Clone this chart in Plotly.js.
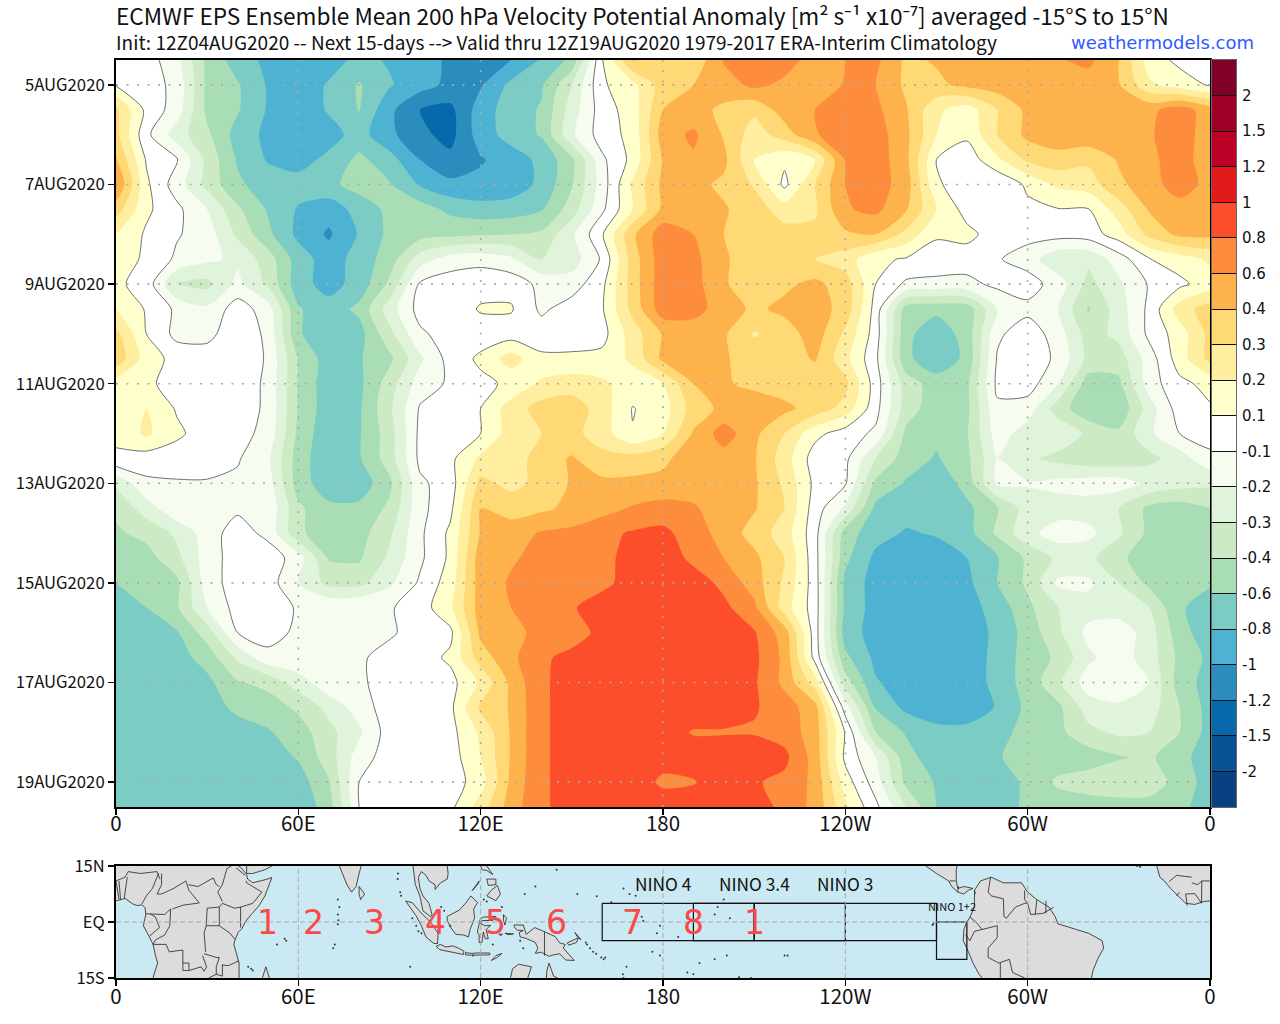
<!DOCTYPE html>
<html><head><meta charset="utf-8">
<script src="https://cdn.plot.ly/plotly-3.0.1.min.js"></script>
<style>html,body{margin:0;padding:0;background:#fff}#c{width:1280px;height:1024px}</style>
</head><body><div id="c"></div>
<script>
// ---------- anomaly readings: longitude every 10 deg (0..360), one row per 12 hours ----------
const lons=[0,10,20,30,40,50,60,70,80,90,100,110,120,130,140,150,160,170,180,190,200,210,220,230,240,250,260,270,280,290,300,310,320,330,340,350,360];
const days=[4.5,5,5.5,6,6.5,7,7.5,8,8.5,9,9.5,10,10.5,11,11.5,12,12.5,13,13.5,14,14.5,15,15.5,16,16.5,17,17.5,18,18.5,19,19.5];
const d04h12=[0,0,-.17,-.45,-.7,-.85,-.95,-.88,-.75,-.82,-.95,-1.02,-1.12,-1,-.78,-.55,.09,.42,.31,.32,.62,.75,.7,.5,.6,.65,.38,.42,.5,.55,.55,.58,.65,.4,.15,.05,.02];
const d05h00=[.08,0,-.13,-.45,-.58,-.82,-.92,-.78,-.58,-.78,-.92,-1.05,-1.02,-.75,-.63,-.3,.07,.17,.35,.4,.5,.65,.55,.45,.62,.6,.38,.38,.45,.5,.55,.5,.5,.42,.22,.15,.08];
const d05h12=[.32,.05,-.15,-.45,-.58,-.82,-.92,-.78,-.59,-.95,-1.2,-1.28,-.9,-.7,-.58,-.25,0,.15,.4,.47,.38,.32,.5,.6,.7,.65,.42,.22,.15,.3,.45,.5,.5,.5,.55,.7,.5];
const d06h00=[.33,-.05,-.25,-.38,-.68,-.85,-.93,-.88,-.72,-.95,-1.15,-1.3,-.9,-.72,-.58,-.22,0,.13,.5,.64,.39,.25,.35,.58,.72,.7,.45,.2,.12,.3,.45,.52,.55,.55,.58,.7,.5];
const d06h12=[.42,.08,-.08,-.33,-.62,-.82,-.88,-.75,-.55,-.72,-1,-1.15,-1.02,-.9,-.75,-.45,-.12,.13,.42,.57,.45,.2,.12,.2,.62,.72,.45,.1,-.02,.18,.32,.36,.32,.42,.55,.7,.48];
const d07h00=[.62,.12,-.15,-.33,-.57,-.68,-.72,-.65,-.52,-.58,-.82,-.95,-.95,-.92,-.75,-.42,-.15,.22,.45,.46,.38,.29,.05,.3,.6,.7,.5,.12,-.05,-.08,.12,.22,.25,.38,.5,.72,.52];
const d07h12=[.35,.12,-.05,-.2,-.38,-.62,-.82,-.92,-.72,-.55,-.5,-.65,-.72,-.7,-.62,-.35,-.12,.2,.45,.5,.42,.35,.25,.28,.58,.65,.42,.2,.02,-.05,.05,.09,.09,.25,.42,.5,.5];
const d08h00=[.2,.07,-.08,-.15,-.32,-.55,-.85,-1.03,-.78,-.55,-.48,-.45,-.42,-.4,-.38,-.22,.08,.38,.72,.6,.4,.35,.34,.33,.38,.4,.27,.11,.13,0,-.03,-.02,0,.15,.33,.45,.45];
const d08h12=[.13,.08,-.12,-.18,-.22,-.35,-.7,-.9,-.72,-.5,-.25,-.15,-.13,-.18,-.3,-.25,-.07,.35,.72,.66,.42,.36,.35,.3,.25,.12,.08,.03,0,-.08,-.15,-.28,-.28,-.15,.09,.15,.22];
const d09h00=[.12,.02,-.31,-.33,-.17,-.32,-.72,-.88,-.72,-.38,-.07,0,.02,.03,-.13,-.15,.05,.35,.72,.68,.42,.35,.38,.45,.35,.1,-.12,-.13,-.13,-.05,0,-.15,-.33,-.22,-.08,.05,.15];
const d09h12=[.2,.08,-.12,-.18,0,-.15,-.58,-.72,-.55,-.25,-.02,-.02,.11,.11,-.12,0,.08,.33,.72,.68,.5,.38,.45,.5,.36,.02,-.5,-.55,-.52,-.2,-.13,-.2,-.42,-.25,-.05,.25,.35];
const d10h00=[.33,.1,-.13,-.13,.03,-.12,-.58,-.72,-.68,-.33,-.12,0,0,0,0,0,.03,.25,.42,.48,.43,.29,.35,.5,.28,0,-.55,-.72,-.52,-.12,.02,-.15,-.35,-.27,-.05,.15,.33];
const d10h12=[.37,.15,.03,0,.02,-.11,-.42,-.7,-.62,-.45,-.22,-.02,.12,.25,.12,.12,.13,.22,.45,.5,.42,.36,.35,.42,.23,-.05,-.55,-.75,-.55,-.08,.02,-.12,-.33,-.35,-.15,.15,.33];
const d11h00=[.15,.12,.02,0,.02,-.12,-.42,-.72,-.65,-.35,-.15,-.07,.05,.12,.22,.25,.22,.15,.2,.4,.42,.38,.35,.33,.33,0,-.35,-.5,-.45,-.05,0,-.2,-.5,-.45,-.15,.05,.13];
const d11h12=[.13,.2,.08,0,.01,-.12,-.42,-.72,-.63,-.32,-.08,0,.1,.25,.34,.36,.25,.09,.15,.35,.45,.5,.45,.36,.26,-.03,-.35,-.52,-.45,-.12,-.15,-.35,-.55,-.55,-.25,0,.08];
const d12h00=[.12,.22,.12,0,-.03,-.13,-.45,-.75,-.62,-.35,-.05,0,.1,.25,.3,.33,.25,.105,.2,.42,.7,.45,.3,.13,0,-.12,-.45,-.55,-.42,-.15,-.25,-.22,-.32,-.38,-.22,-.1,-.03];
const d12h12=[.07,0,0,0,-.08,-.18,-.5,-.75,-.62,-.35,-.05,.05,.22,.24,.35,.42,.33,.34,.38,.5,.52,.42,.25,0,-.05,-.3,-.5,-.62,-.45,-.2,-.28,-.33,-.37,-.37,-.33,-.25,-.12];
const d13h00=[-.28,-.12,-.11,-.11,-.12,-.15,-.5,-.72,-.72,-.45,-.12,0,.33,.27,.33,.42,.45,.45,.45,.52,.52,.43,.28,.05,-.08,-.45,-.62,-.75,-.52,-.18,-.19,-.17,-.15,-.15,-.22,-.26,-.28];
const d13h12=[-.38,-.25,-.12,-.12,-.12,-.12,-.38,-.55,-.55,-.38,-.13,.05,.4,.36,.38,.45,.52,.62,.68,.62,.52,.42,.3,0,-.22,-.65,-.72,-.72,-.65,-.42,-.25,-.25,-.25,-.3,-.45,-.5,-.4];
const d14h00=[-.43,-.37,-.28,-.15,0,-.13,-.38,-.52,-.48,-.32,-.12,.12,.42,.5,.62,.65,.75,.82,.85,.7,.52,.36,.25,-.02,-.5,-.72,-.82,-.78,-.68,-.38,-.23,-.15,-.17,-.28,-.45,-.5,-.45];
const d14h12=[-.55,-.48,-.33,-.15,0,.02,-.15,-.42,-.43,-.28,-.12,.12,.52,.58,.65,.7,.72,.9,.92,.75,.6,.45,.3,-.02,-.55,-.85,-.92,-.9,-.8,-.62,-.38,-.28,-.27,-.38,-.5,-.55,-.52];
const d15h00=[-.6,-.52,-.45,-.15,0,0,-.2,-.33,-.33,-.22,-.07,.15,.5,.62,.72,.75,.75,.88,.98,.9,.75,.5,.28,0,-.66,-.88,-.95,-.92,-.85,-.6,-.38,-.18,-.18,-.3,-.45,-.55,-.58];
const d15h12=[-.65,-.6,-.43,-.2,-.02,0,-.11,-.11,-.1,-.11,0,.18,.5,.6,.72,.78,.9,.92,.95,.93,.85,.65,.25,0,-.65,-.88,-.95,-.95,-.88,-.72,-.45,-.3,-.24,-.25,-.3,-.58,-.68];
const d16h00=[-.72,-.7,-.62,-.35,-.1,-.02,-.12,-.13,-.12,-.12,.02,.05,.45,.52,.68,.72,.85,.92,.95,.95,.92,.82,.5,0,-.7,-.88,-.95,-.95,-.92,-.75,-.52,-.32,-.17,-.14,-.25,-.52,-.72];
const d16h12=[-.75,-.72,-.68,-.52,-.28,-.13,-.12,-.1,-.12,0,0,.12,.35,.55,.77,.85,.92,.96,.98,.98,.95,.85,.55,.03,-.55,-.85,-.92,-.95,-.95,-.72,-.52,-.38,-.22,-.15,-.25,-.45,-.65];
const d17h00=[-.72,-.72,-.72,-.65,-.42,-.37,-.25,-.13,-.12,0,0,.03,.22,.45,.78,.85,.95,.98,.97,.95,.92,.83,.55,.25,-.35,-.78,-.9,-.95,-.95,-.72,-.52,-.32,-.15,-.12,-.2,-.5,-.68];
const d17h12=[-.72,-.72,-.72,-.7,-.55,-.5,-.38,-.27,-.15,0,0,.05,.32,.42,.78,.85,.95,.98,.98,.95,.92,.82,.7,.48,-.15,-.62,-.85,-.95,-.95,-.78,-.55,-.45,-.25,-.22,-.25,-.4,-.68];
const d18h00=[-.75,-.75,-.74,-.72,-.7,-.62,-.5,-.33,-.22,0,0,.03,.22,.42,.78,.85,.95,.97,.92,.78,.78,.78,.72,.5,.08,-.4,-.62,-.72,-.72,-.65,-.55,-.45,-.33,-.28,-.3,-.4,-.68];
const d18h12=[-.75,-.75,-.75,-.75,-.75,-.7,-.58,-.35,-.15,0,0,0,.2,.42,.78,.85,.95,.95,.9,.93,.95,.95,.85,.52,.05,-.2,-.52,-.72,-.72,-.62,-.5,-.52,-.5,-.42,-.38,-.55,-.68];
const d19h00=[-.75,-.75,-.75,-.75,-.75,-.75,-.7,-.42,-.1,0,0,0,.15,.45,.78,.85,.95,.95,.75,.78,.95,.82,.75,.55,.15,-.15,-.45,-.62,-.72,-.72,-.55,-.38,-.35,-.32,-.33,-.5,-.68];
const d19h12=[-.75,-.75,-.75,-.75,-.75,-.75,-.75,-.5,-.1,0,0,.05,.25,.5,.78,.85,.95,.95,.95,.95,.95,.95,.72,.55,.22,-.05,-.3,-.6,-.72,-.72,-.55,-.52,-.5,-.5,-.5,-.55,-.7];
const anomalyRows=[d04h12,d05h00,d05h12,d06h00,d06h12,d07h00,d07h12,d08h00,d08h12,d09h00,d09h12,d10h00,d10h12,d11h00,d11h12,d12h00,d12h12,d13h00,d13h12,d14h00,d14h12,d15h00,d15h12,d16h00,d16h12,d17h00,d17h12,d18h00,d18h12,d19h00,d19h12];

// ---------- contour levels, colours, tick labels ----------
const levels=[-2,-1.5,-1.2,-1,-.8,-.6,-.4,-.3,-.2,-.1,.1,.2,.3,.4,.6,.8,1,1.2,1.5,2];
const levelLabels=['-2','-1.5','-1.2','-1','-0.8','-0.6','-0.4','-0.3','-0.2','-0.1','0.1','0.2','0.3','0.4','0.6','0.8','1','1.2','1.5','2'];
const bandColors=['#084081','#0a5296','#0868ac','#2b8cbe','#4eb3d3','#7bccc4','#a8ddb5','#ccebc5','#e0f3db','#f7fcf0','#ffffff','#ffffcc','#ffeda0','#fed976','#feb24c','#fd8d3c','#fc4e2a','#e31a1c','#bd0026','#a00026','#800026'];
const dayTicks=[5,7,9,11,13,15,17,19];
const dayLabels=['5AUG2020','7AUG2020','9AUG2020','11AUG2020','13AUG2020','15AUG2020','17AUG2020','19AUG2020'];
const lonTicks=[0,60,120,180,240,300,360];
const lonLabels=['0','60E','120E','180','120W','60W','0'];

// ---------- map: land outlines as [lon, lat] pairs ----------
const africaWest=[[-3,5],[0,5.6],[1.5,6],[3,6.3],[5.6,4.8],[7,4.4],[8.5,4.6],[9.6,3.8],[9.8,2],[9.3,0.5],[9,-1],[11,-4],[12.2,-6],[13,-9],[13.7,-11],[12.5,-14],[12,-16],[40.7,-16],[40.5,-15],[40.5,-11],[39.5,-8],[38.8,-6],[39.2,-4.7],[40.2,-2.8],[41.5,-1.7],[42.5,0],[44.5,2],[47,4.3],[49,7],[50.5,10],[51.3,11.9],[49,11.3],[45,10.5],[43.3,11.5],[43,12.7],[41,14.7],[39.5,15.5],[38,16],[-3,16]];
const yemen=[[43,13],[45,13],[49,14],[52,15.3],[52,16],[43,16]];
const india=[[73,16],[73.5,15],[74.5,13],[76,10],[77.5,8],[79,9.5],[80,13],[80.5,15],[81,16]];
const sriLanka=[[80,9.5],[81,8.5],[81.8,7.5],[80.5,6],[80,7.5]];
const indochina=[[97.6,16],[98,13],[98.5,10],[100,7],[101,3],[103.5,1.4],[104,2],[103,5],[101,7],[100,9],[99.5,12],[100.5,13.5],[102,12.5],[103,11],[105,10],[105,8.7],[106.8,10.5],[109,11.5],[109.3,13],[109,15],[108.5,16]];
const sumatra=[[95.3,5.6],[97.5,5.2],[100.3,2.5],[103.5,0],[106,-3],[105.8,-5.8],[104.5,-5.7],[102,-4],[100.5,-1],[98.7,1.7]];
const java=[[105.3,-6.5],[106.8,-6],[108.5,-6.7],[110.8,-6.4],[112.7,-7],[114.5,-7.8],[114.3,-8.7],[110,-8],[106.5,-7.4]];
const lesserSunda=[[115,-8.2],[117,-8.4],[119,-8.3],[123,-8.3],[123,-8.8],[119,-9],[117,-8.9],[115,-8.8]];
const timor=[[123.5,-10.3],[125,-9],[127,-8.4],[125.5,-9.5]];
const borneo=[[109,1.5],[111.3,2.4],[113,3.2],[115,5],[116.8,7],[119,5.2],[117.7,3.5],[118,1],[117.5,0],[116.5,-2],[116,-4],[114.5,-3.5],[111.8,-3.3],[110,-1.3],[109,.5]];
const sulawesi=[[119.8,.7],[120.8,1.3],[125,1.5],[124,.4],[120.5,.4],[120,-.5],[121.5,-1],[123.3,-.9],[121.8,-2],[122.5,-4.5],[121.5,-4.5],[120.9,-2.7],[120.4,-5.5],[119.5,-5.5],[119.5,-3.5],[118.9,-2.7]];
const luzon=[[120,16],[120,15],[120.5,14],[122,13.8],[124,12.7],[122,15],[122,16]];
const mindanao=[[122,7],[125,5.7],[126.5,7.5],[125.5,9.8],[123.5,8.5]];
const palawan=[[117.2,8.4],[119.5,11],[119.3,10.3]];
const visayas=[[122,11.5],[125,11.5],[125,10],[122.5,9.8]];
const halmahera=[[127.5,2],[128.5,1],[128,-.8],[127.5,.5]];
const seram=[[128,-3],[130.8,-3.2],[129,-3.4]];
const buru=[[126,-3.2],[127.2,-3.3],[126.5,-3.7]];
const newGuinea=[[131,-.8],[134,-.8],[135,-3.3],[137.8,-1.5],[141,-2.6],[144.5,-3.9],[146,-5.6],[147.8,-6],[147.2,-7],[150.8,-10.3],[148,-10.2],[146,-8.5],[143.5,-8.9],[142.5,-9.2],[140,-8.1],[138,-8.4],[138.8,-7],[138,-5.5],[135,-4.4],[133,-4],[132.7,-2.8],[134,-2.3],[132,-2.2],[131,-1.3]];
const newBritain=[[148.5,-5.6],[152.2,-4.2],[151.5,-5.5],[149,-6.2]];
const newIreland=[[151,-2.8],[153,-4.7],[152,-4.2]];
const arnhem=[[129.5,-16],[130.5,-12.5],[132.5,-11.3],[136.7,-12],[135.5,-15],[135.5,-16]];
const capeYork=[[142.5,-11],[144,-14.5],[145.3,-15],[145.5,-16],[141.5,-16],[141.8,-13]];
const madagascar=[[47.8,-16],[49.3,-12],[50.5,-15],[50.6,-16]];
const centralAmerica=[[266.5,16],[266.5,15],[270,13],[274,11],[275,9.5],[277,8],[279,7.5],[280.5,8.5],[282,9],[279,9.5],[277,9],[276.5,11],[276.5,14],[277,15.5],[277,16]];
const southAmerica=[[282.5,8.5],[282.5,7],[282.5,4],[281,1.3],[280,0],[279,-2],[278.8,-5],[280.5,-8],[282,-11],[284,-14],[285,-15],[285.5,-16],[320.8,-16],[321,-15],[321.5,-13],[323,-10],[325,-7],[324.5,-5],[320,-3],[316,-2],[310,-.5],[309,1.5],[307,4],[303,6],[300,8],[298,10.5],[292,10.5],[288,12],[284.5,11]];
const westAfricaEast=[[342.5,16],[342.5,15],[343.5,12],[345,11],[347,9],[349,7.5],[352,5],[355,4.7],[358,5.5],[362,5.8],[362,16]];
const coasts=[africaWest,yemen,india,sriLanka,indochina,sumatra,java,lesserSunda,timor,borneo,sulawesi,luzon,mindanao,palawan,visayas,halmahera,seram,buru,newGuinea,newBritain,newIreland,arnhem,capeYork,madagascar,centralAmerica,southAmerica,westAfricaEast];
// country borders as separate stretches of [lon, lat]
const borders=[
 [[3,12],[4,13.5],[8,13],[13.5,13.5],[14.5,11.5]],[[8.5,4.8],[10,7],[12,9],[13.5,12],[14,13]],[[1.5,6],[1,11]],[[2.7,6.3],[3.5,10],[3.7,12]],[[1,6],[0,11]],[[-2,11],[0,11],[3,12]],
 [[15,13],[15,10],[13.5,7.5]],[[13.5,7.5],[15,7.5],[19,9],[23,11]],[[23,11],[24,8.5],[27.4,5.1]],[[18.6,3.5],[22,4.5],[27.4,5.1]],[[9.8,2.2],[13,2.2],[16,2],[18,3.5]],
 [[18,3.5],[17.7,-1],[16,-3.5],[13,-4.8],[12.2,-6]],[[11.2,2.2],[13,1.3],[14.3,-1.5],[12,-3],[11,-3.8]],[[12.3,-6],[16.5,-6],[17.5,-8],[22,-7.5],[22,-11],[24,-11]],
 [[24,-11],[24,-13],[28,-12],[29,-13.2],[29.8,-12],[28.5,-9]],[[22,-11],[22,-13],[24,-13]],[[30,3.7],[29.7,-1],[29,-3],[29.5,-8]],[[34,4],[34,1],[34,-1]],[[34,-1],[37.5,-3],[39.2,-4.7]],[[29.7,-1],[34,-1]],
 [[23.8,10],[27,9.5],[32,11.8],[33,10],[34,9.5]],[[36.5,14.3],[35,10],[33.5,8],[35,5.5]],[[30,3.7],[34,4],[35,5]],[[35,5],[39,3.7],[41,4]],[[41,4],[41,-1.5]],[[41,4],[45,5],[48,8],[43,10.5],[42.8,11]],[[38,15],[36.5,14.3]],[[39.5,14.5],[42.5,12.5]],
 [[40.4,-10.4],[37,-11.7],[34.9,-11.5]],[[34,-9.5],[33,-12],[33,-14],[35,-14.5],[35,-11.5]],[[29,-8.5],[33,-9.5],[34,-9.5]],[[30.5,-15],[33,-14]],
 [[281,1.3],[283,0],[285,-2]],[[279.6,-3.4],[281,-5],[282.5,-2.5],[285,-2]],[[287.8,12],[287,8],[288,7],[292,6.2],[292.2,1.5],[293,1]],[[285,-2],[290,-1],[290,-4.2]],[[290,-4.2],[287,-7],[287,-9.5],[290.5,-11]],
 [[290.5,-11],[294,-10],[295,-13.5],[299,-15]],[[291,-11],[291,-15]],[[299,8.5],[299,6],[300,5]],[[293,1],[296,4],[299,5],[300,5]],[[303,5.9],[302.5,2]],[[306,5.7],[306,2.3]],[[300,5],[301,2],[305,2.3],[308.5,3.9]],
 [[276.3,11],[274.3,11]],[[277.2,9.6],[277,8]],[[282.5,8.5],[282.8,7.5]],
 [[349,7],[350,8]],[[352.5,4.4],[352,7.5],[355,7.6],[357,5.3]],[[357.2,5],[357.3,11],[360,11]],[[354,10.5],[356,10],[357.3,11]],[[346.5,10.8],[349,12.5],[354,12]],[[141,-2.6],[141,-9]]];
const islandLon=[73,73.5,73,73.2,73,72,71.5,55.5,56,53,43.5,44.5,45,92.8,92.7,93.5,93.8,97.5,98.8,99.5,100.5,134.5,138,145,151.8,158.2,163,171,169,173,167,157,158,159.7,161,160.5,167,166.8,190,188,176.5,179,192,197,201,205,209,220,221,188,197,198,200,202,269,268.7,336,337,96.8,155,154.6,156,110,108,107,106.5,117.5,121,122,124,133,134,127,173.5,179,168,180,185,178];
const islandLat=[6,4,2,.5,-.6,-6,-7,-4.5,-5,-6,-12,-12.5,-13,13,11.5,8,7,1,-1,-2.5,-3,7.5,9.5,14,7.5,6.9,5.3,7,7.5,1.4,9,-8,-8.5,-9.5,-9.5,-10,-15,-14,-14,-13.5,-8,-9,-11,-10,-9,-14.8,-15,-9,-9,1,2,4,6,1,-.5,-.8,15,14.8,-12,-6,-5.5,-7,-1,3,4,1,-9,6,5.5,-6,-5,-7,4,.3,-1,-12,12,-4,-3,-5];
const ninoLon=[160,210,210,160,160,null,190,240,240,190,190,null,210,270,270,210,210,null,270,280,280,270,270];
const ninoLat=[5,5,-5,-5,5,null,5,5,-5,-5,5,null,5,5,-5,-5,5,null,0,0,-10,-10,0];
const ninoNames=['NINO 4','NINO 3.4','NINO 3'];
const ninoNameLon=[180,210,240];
const mjoPhases=['1','2','3','4','5','6','7','8','1'];
const mjoLon=[50,65,85,105,125,145,170,190,210];
const mapLatTicks=[15,0,-15];
const mapLatLabels=['15N','EQ','15S'];

// ---------- levels are unevenly spaced: draw on a level-number scale ----------
function levelIndex(v){
  if(v<=levels[0]) return 1+(v-levels[0]);
  for(let k=0;k<levels.length-1;k++){
    if(v<=levels[k+1]) return k+1+(v-levels[k])/(levels[k+1]-levels[k]);
  }
  return levels.length+(v-levels[levels.length-1]);
}
const zIdx=anomalyRows.map(r=>r.map(levelIndex));
const nb=bandColors.length;
const steps=[];
bandColors.forEach((c,i)=>{steps.push([i/nb,c]);steps.push([(i+1)/nb,c]);});
const levelTicks=levels.map((_,i)=>i+1);
const barCentres=bandColors.map((_,i)=>i+.5);

const FONT='"Noto Sans CJK JP","Noto Sans",sans-serif';
const W=1280,H=1024;
const traces=[];
traces.push({type:'contour',x:lons,y:days,z:zIdx,xaxis:'x',yaxis:'y',zmin:0,zmax:nb,zauto:false,autocontour:false,showscale:false,
  colorscale:steps,hoverinfo:'skip',
  contours:{start:1,end:levels.length,size:1,coloring:'fill',showlines:false},
  line:{width:0,smoothing:.75}});
traces.push({type:'contour',x:lons,y:days,z:zIdx,xaxis:'x',yaxis:'y',showscale:false,autocontour:false,hoverinfo:'skip',
  contours:{start:levelIndex(-.1),end:levelIndex(.1),size:levelIndex(.1)-levelIndex(-.1),coloring:'none'},
  line:{color:'#707070',width:1,smoothing:.75}});
traces.push({type:'heatmap',x:[0],y:barCentres,z:barCentres.map(v=>[v]),xaxis:'x3',yaxis:'y3',zmin:0,zmax:nb,zauto:false,colorscale:steps,showscale:false,hoverinfo:'skip'});
coasts.forEach(c=>traces.push({type:'scatter',mode:'lines',x:c.map(p=>p[0]).concat(c[0][0]),y:c.map(p=>p[1]).concat(c[0][1]),xaxis:'x2',yaxis:'y2',fill:'toself',fillcolor:'#dcdcdc',
  line:{color:'#222',width:.8},hoverinfo:'skip',showlegend:false}));
borders.forEach(b=>traces.push({type:'scatter',mode:'lines',x:b.map(p=>p[0]),y:b.map(p=>p[1]),xaxis:'x2',yaxis:'y2',line:{color:'#222',width:.8},hoverinfo:'skip',showlegend:false}));
traces.push({type:'scatter',mode:'markers',x:islandLon,y:islandLat,xaxis:'x2',yaxis:'y2',marker:{color:'#333',size:2},hoverinfo:'skip',showlegend:false});
traces.push({type:'scatter',mode:'lines',x:ninoLon,y:ninoLat,xaxis:'x2',yaxis:'y2',line:{color:'#111',width:1.2},hoverinfo:'skip',showlegend:false,connectgaps:false});

const shapes=[];
const dotted={color:'#aaaaaa',width:1.6,dash:'2px,8.5px'};
lonTicks.slice(1,-1).forEach(v=>shapes.push({type:'line',xref:'x',yref:'paper',x0:v,x1:v,y0:1-807/H,y1:1-60/H,line:dotted,layer:'above'}));
dayTicks.forEach(v=>shapes.push({type:'line',xref:'paper',yref:'y',x0:116/W,x1:1210/W,y0:v,y1:v,line:dotted,layer:'above'}));
const dashed={color:'#aaaaaa',width:1,dash:'5px,3px'};
lonTicks.slice(1,-1).forEach(v=>shapes.push({type:'line',xref:'x2',yref:'y2',x0:v,x1:v,y0:-15,y1:15,line:dashed,layer:'above'}));
shapes.push({type:'line',xref:'x2',yref:'y2',x0:0,x1:360,y0:0,y1:0,line:dashed,layer:'above'});

const annotations=[
 {xref:'paper',yref:'paper',x:116/W,y:1-41.5/H,xanchor:'left',yanchor:'middle',showarrow:false,align:'left',xshift:-2,
  text:'Init: 12Z04AUG2020 -- Next 15-days --> Valid thru 12Z19AUG2020 1979-2017 ERA-Interim Climatology',font:{family:FONT,size:19,color:'#111'}},
 {xref:'paper',yref:'paper',x:1256/W,y:1-42/H,xanchor:'right',yanchor:'middle',showarrow:false,
  text:'weathermodels.com',font:{family:'"DejaVu Sans"',size:18,color:'#2f5bff'}},
 {xref:'x2',yref:'y2',x:275,y:4.3,xanchor:'center',yanchor:'middle',showarrow:false,text:'NINO 1+2',font:{family:FONT,size:11,color:'#111'}}
];
ninoNames.forEach((t,i)=>annotations.push({xref:'x2',yref:'y2',x:ninoNameLon[i],y:10.4,xanchor:'center',yanchor:'middle',showarrow:false,text:t,font:{family:FONT,size:17.3,color:'#111'}}));
mjoPhases.forEach((t,i)=>annotations.push({xref:'x2',yref:'y2',x:mjoLon[i],y:0,xanchor:'center',yanchor:'middle',showarrow:false,text:t,font:{family:'"DejaVu Sans"',size:33,color:'#fb4848'}}));

const axisCommon={showgrid:false,zeroline:false,showline:true,linecolor:'#000',linewidth:2,mirror:true,ticks:'outside',ticklen:6,tickwidth:1.5,tickcolor:'#000',
  tickfont:{family:FONT,size:16.7,color:'#111'},tickmode:'array'};
const xFont={family:FONT,size:20.5,color:'#111'};
const layout={width:W,height:H,margin:{l:0,r:0,t:0,b:0},autosize:false,paper_bgcolor:'#fff',plot_bgcolor:'#cbe9f2',showlegend:false,
 title:{text:'ECMWF EPS Ensemble Mean 200 hPa Velocity Potential Anomaly [m² s⁻¹ x10⁻⁷] averaged -15°S to 15°N',
   x:116/W,xanchor:'left',xref:'paper',y:1-17.5/H,yanchor:'middle',yref:'paper',font:{family:FONT,size:22.6,color:'#111'},pad:{l:0,t:0,b:0,r:0}},
 xaxis:Object.assign({},axisCommon,{domain:[116/W,1210/W],range:[0,360],tickvals:lonTicks,ticktext:lonLabels,anchor:'y',tickfont:xFont,ticklabelstandoff:-9}),
 yaxis:Object.assign({},axisCommon,{domain:[1-807/H,1-60/H],range:[19.5,4.5],tickvals:dayTicks,ticktext:dayLabels,anchor:'x'}),
 xaxis2:Object.assign({},axisCommon,{domain:[116/W,1210/W],range:[0,360],tickvals:lonTicks,ticktext:lonLabels,anchor:'y2',tickfont:xFont,ticklabelstandoff:-7}),
 yaxis2:Object.assign({},axisCommon,{domain:[1-978/H,1-866/H],range:[-15,15],tickvals:mapLatTicks,ticktext:mapLatLabels,anchor:'x2',tickfont:{family:FONT,size:16.5,color:'#111'}}),
 xaxis3:{domain:[1212/W,1236/W],range:[-.5,.5],anchor:'y3',showticklabels:false,ticks:'',showgrid:false,zeroline:false,showline:true,linecolor:'#666',linewidth:1,mirror:true},
 yaxis3:{domain:[1-807/H,1-60/H],range:[0,nb],anchor:'x3',side:'right',showgrid:false,zeroline:false,showline:true,linecolor:'#666',linewidth:1,mirror:true,
   tickmode:'array',tickvals:levelTicks,ticktext:levelLabels,ticks:'inside',ticklen:24,tickwidth:1,tickcolor:'#111',ticklabelstandoff:2,
   tickfont:{family:'"DejaVu Sans"',size:15,color:'#111'}},
 shapes,annotations};
Plotly.newPlot('c',traces,layout,{staticPlot:true,displayModeBar:false});
</script></body></html>
